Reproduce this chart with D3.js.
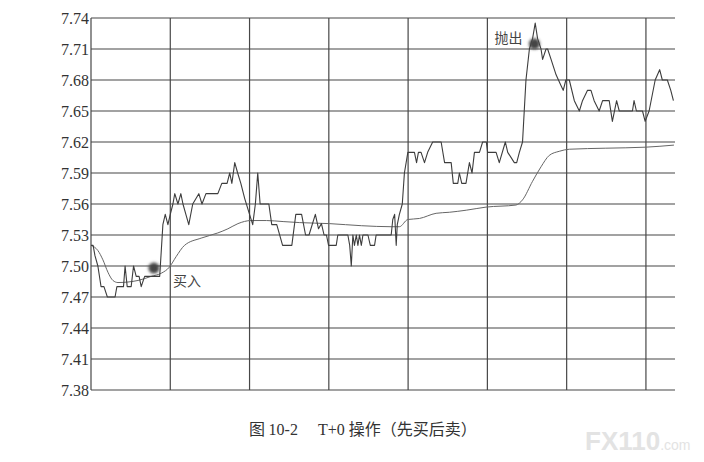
<!DOCTYPE html>
<html>
<head>
<meta charset="utf-8">
<script src="https://cdn.jsdelivr.net/npm/d3@7"></script>
<style>
  html, body { margin: 0; padding: 0; background: #fff; }
  svg { display: block; }
</style>
</head>
<body>
<div id="chart"></div>
<script>
// price line (minutes since open, price)
const priceMinutes = [0, 0.8, 1.5, 2.6, 3.8, 4.9, 6.2, 9.1, 9.8, 12.3, 12.9, 13.7, 15.2, 16.1, 17.1, 18.2, 19, 20.3, 26,
  27.2, 28.1, 29.1, 30, 31, 31.7, 32.9, 34, 34.8, 35.9, 37, 38.5, 40.8, 42, 43.5, 48, 49.5, 51.5, 52.5, 53.3, 54.4,
  55.5, 56.7, 58.2, 60, 61.2, 62.2, 63.1, 64, 67.3, 68.4, 70.3, 72.5, 76, 77.5, 79.7, 81.2, 82.5, 84.9, 86.1, 87.2,
  88.2, 89.1, 89.9, 92.8, 93.4, 97.2, 97.9, 98.5, 99.1, 99.7, 100.4, 101, 101.6, 102.3, 102.9, 104.8, 105.7, 107.3,
  107.9, 113.6, 114.2, 114.9, 115.5, 115.9, 116.7, 117.8, 118.6, 119.9, 122.4, 123.2, 123.9, 124.9, 126.2, 127.4,
  129.3, 132.5, 133.8, 136.3, 137.1, 138.8, 139.4, 140.3, 141.9, 143.2, 144.2, 145.1, 147, 148.2, 149.6, 150.1,
  153.3, 154.5, 156.8, 157.7, 160.2, 161.1, 162.1, 163.3, 164.6, 165.9, 167.1, 168.1, 169, 170.3, 170.9, 172.2,
  172.8, 174.1, 176, 177.8, 178.7, 179.7, 181, 182.9, 184.8, 186, 187.9, 189.2, 190.4, 192.3, 193.6, 196.1, 197.3,
  198.9, 199.9, 204.9, 205.5, 206.4, 208.7, 209.7, 211.2, 213.5, 215.2, 216.2, 218.1, 219.4, 220.4];
const prices = [7.52, 7.52, 7.51, 7.50, 7.48, 7.48, 7.47, 7.47, 7.48, 7.48, 7.50, 7.48, 7.48, 7.50, 7.49, 7.49, 7.48, 7.49, 7.49,
  7.54, 7.55, 7.54, 7.55, 7.56, 7.57, 7.56, 7.57, 7.56, 7.55, 7.54, 7.56, 7.57, 7.56, 7.57, 7.57, 7.58, 7.58, 7.59, 7.58, 7.60,
  7.59, 7.58, 7.565, 7.55, 7.54, 7.56, 7.59, 7.56, 7.56, 7.54, 7.54, 7.52, 7.52, 7.55, 7.55, 7.53, 7.53, 7.55, 7.536, 7.541,
  7.53, 7.53, 7.52, 7.52, 7.53, 7.53, 7.52, 7.50, 7.53, 7.52, 7.53, 7.52, 7.53, 7.52, 7.53, 7.53, 7.52, 7.52,
  7.53, 7.53, 7.545, 7.55, 7.52, 7.54, 7.55, 7.56, 7.59, 7.61, 7.61, 7.60, 7.61, 7.61, 7.60, 7.61,
  7.62, 7.62, 7.60, 7.60, 7.58, 7.58, 7.59, 7.58, 7.58, 7.60, 7.59, 7.61, 7.61, 7.62, 7.62, 7.61,
  7.61, 7.60, 7.62, 7.61, 7.60, 7.60, 7.61, 7.62, 7.68, 7.71, 7.72, 7.735, 7.72, 7.71, 7.70, 7.71,
  7.71, 7.70, 7.685, 7.675, 7.67, 7.68, 7.68, 7.66, 7.65, 7.66, 7.67, 7.67, 7.66, 7.65, 7.66, 7.66, 7.64,
  7.66, 7.65, 7.65, 7.66, 7.65, 7.65, 7.64, 7.65, 7.68, 7.69, 7.68, 7.68, 7.67, 7.66];

// average price line
const avgMinutes = [0, 2.6, 4.5, 6.4, 8.3, 10.2, 17.8, 22.8, 26.6, 29.7, 32.2, 35.4, 41.7, 48, 51.8, 55.6, 60.6, 66.4,
  72.7, 79, 90.3, 102.3, 113.6, 116.7, 119.9, 124.3, 130.6, 135.6, 142, 149.5, 160.8, 163.3, 167.1, 170.3, 173.4,
  177.2, 181, 194.8, 210, 220.6];
const avgPrices = [7.52, 7.515, 7.506, 7.494, 7.486, 7.484, 7.486, 7.49, 7.493, 7.499, 7.509, 7.52, 7.527, 7.532, 7.536,
  7.541, 7.544, 7.544, 7.543, 7.542, 7.541, 7.539, 7.538, 7.538, 7.545, 7.546, 7.551, 7.552, 7.554, 7.557, 7.559,
  7.564, 7.582, 7.596, 7.607, 7.611, 7.613, 7.614, 7.615, 7.617];

const yTicks = [7.38, 7.41, 7.44, 7.47, 7.50, 7.53, 7.56, 7.59, 7.62, 7.65, 7.68, 7.71, 7.74];
const xGrid = [0, 30, 60, 90, 120, 150, 180, 210];

// trade points
const marks = [
  { label: "买入", minute: 23.8, price: 7.498 },
  { label: "抛出", minute: 167.8, price: 7.715 }
];

const width = 704, height = 462;
const svg = d3.select("#chart").append("svg")
  .attr("width", width)
  .attr("height", height)
  .style("background", "#fff");

const x = d3.scaleLinear().domain([0, 221]).range([91, 675]);
const y = d3.scaleLinear().domain([7.38, 7.74]).range([390, 18]);

const defs = svg.append("defs");
defs.append("filter").attr("id", "soft")
  .attr("x", "-50%").attr("y", "-50%").attr("width", "200%").attr("height", "200%")
  .append("feGaussianBlur").attr("stdDeviation", 1.4);

// horizontal grid
svg.append("g").selectAll("line")
  .data(yTicks)
  .enter().append("line")
  .attr("x1", x(0)).attr("x2", x(221))
  .attr("y1", d => y(d)).attr("y2", d => y(d))
  .style("stroke", "#474747")
  .style("stroke-width", 1.2);

// vertical grid
svg.append("g").selectAll("line")
  .data(xGrid)
  .enter().append("line")
  .attr("x1", d => x(d)).attr("x2", d => x(d))
  .attr("y1", y(7.74)).attr("y2", y(7.38))
  .style("stroke", "#474747")
  .style("stroke-width", 1.2);

// y axis labels
svg.append("g").selectAll("text")
  .data(yTicks)
  .enter().append("text")
  .attr("x", 89)
  .attr("y", d => y(d))
  .attr("dy", "0.36em")
  .attr("text-anchor", "end")
  .style("font-family", "'Liberation Serif', 'DejaVu Serif', serif")
  .style("font-size", "16px")
  .style("fill", "#333")
  .text(d => d.toFixed(2));

const avgData = avgMinutes.map((m, i) => [m, avgPrices[i]]);
const priceData = priceMinutes.map((m, i) => [m, prices[i]]);

svg.append("path")
  .datum(avgData)
  .attr("d", d3.line().x(d => x(d[0])).y(d => y(d[1])).curve(d3.curveMonotoneX))
  .style("fill", "none")
  .style("stroke", "#666")
  .style("stroke-width", 1);

svg.append("path")
  .datum(priceData)
  .attr("d", d3.line().x(d => x(d[0])).y(d => y(d[1])))
  .style("fill", "none")
  .style("stroke", "#3d3d3d")
  .style("stroke-width", 1.1)
  .style("stroke-linejoin", "round");

// buy / sell markers
svg.append("g").selectAll("circle")
  .data(marks)
  .enter().append("circle")
  .attr("cx", d => x(d.minute))
  .attr("cy", d => y(d.price))
  .attr("r", 5.5)
  .style("fill", "#444")
  .attr("filter", "url(#soft)");

svg.append("text")
  .attr("x", x(marks[0].minute) + 19)
  .attr("y", y(marks[0].price) + 18)
  .style("font-family", "'Noto Sans CJK SC', sans-serif")
  .style("font-size", "14px")
  .style("fill", "#444")
  .text(marks[0].label);

svg.append("text")
  .attr("x", x(marks[1].minute) - 12)
  .attr("y", y(marks[1].price) - 1)
  .attr("text-anchor", "end")
  .style("font-family", "'Noto Sans CJK SC', sans-serif")
  .style("font-size", "14px")
  .style("fill", "#444")
  .text(marks[1].label);

// caption
const caption = svg.append("text")
  .attr("x", 249)
  .attr("y", 435)
  .style("font-size", "16px")
  .style("fill", "#333");
caption.append("tspan")
  .style("font-family", "'Noto Sans CJK SC', sans-serif")
  .text("图 ");
caption.append("tspan")
  .style("font-family", "'Liberation Serif', serif")
  .text("10-2");
caption.append("tspan")
  .attr("x", 318)
  .style("font-family", "'Liberation Serif', serif")
  .text("T+0 ");
caption.append("tspan")
  .style("font-family", "'Noto Sans CJK SC', sans-serif")
  .text("操作（先买后卖）");

// watermark
const wm = svg.append("text")
  .attr("x", 585)
  .attr("y", 450)
  .style("font-family", "'Liberation Sans', Arial, sans-serif")
  .style("fill", "#e3e3e3");
wm.append("tspan")
  .style("font-weight", "bold")
  .style("font-size", "26px")
  .text("FX110");
wm.append("tspan")
  .style("font-size", "14px")
  .text(".com");
</script>
</body>
</html>
